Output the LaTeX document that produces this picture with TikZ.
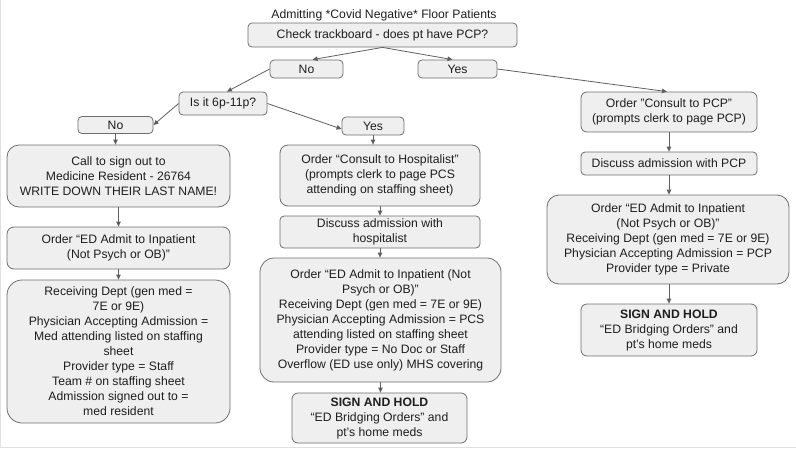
\documentclass[tikz,border=0pt]{standalone}
\usepackage{fontspec}
\setmainfont{Liberation Sans}
\usetikzlibrary{arrows.meta}
\definecolor{boxfill}{HTML}{EFEFEF}
\definecolor{boxline}{HTML}{6E6E6E}
\definecolor{conn}{HTML}{5F5F5F}
\definecolor{txt}{HTML}{1E1E1E}
\begin{document}
\begin{tikzpicture}[x=1pt,y=-1pt,
  every node/.style={font=\fontsize{12.2}{15}\selectfont, text=txt},
  fbox/.style={draw=boxline, fill=boxfill, line width=0.8pt, rounded corners=4pt, align=center, inner sep=0pt},
  bigbox/.style={fbox, rounded corners=12pt},
  conn/.style={draw=conn, line width=0.8pt, -{Triangle[length=5pt,width=4.5pt]}}]
\useasboundingbox (0,0) rectangle (796,448);
\draw[black!12, line width=1pt] (0.5,0) -- (0.5,447.5) -- (796,447.5);

\node (title) at (384,15) {Admitting *Covid Negative* Floor Patients};
\node[fbox, minimum width=269, minimum height=24] (check) at (382.5,35) {Check trackboard - does pt have PCP?};
\node[fbox, minimum width=73, minimum height=18] (no1) at (306.5,69) {No};
\node[fbox, minimum width=79, minimum height=18] (yes1) at (457.5,69) {Yes};
\node[fbox, minimum width=88, minimum height=23] (isit) at (223,103.5) {Is it 6p-11p?};
\node[fbox, minimum width=75, minimum height=17] (no2) at (115.5,125) {No};
\node[fbox, minimum width=62, minimum height=18] (yes2) at (373,126) {Yes};

% left column
\node[bigbox, minimum width=223, minimum height=62] (call) at (118.5,176) {Call to sign out to\\Medicine Resident - 26764\\WRITE DOWN THEIR LAST NAME!};
\node[fbox, rounded corners=7pt, minimum width=223, minimum height=42] (order1) at (118.5,248) {Order “ED Admit to Inpatient\\(Not Psych or OB)”};
\node[bigbox, rounded corners=15pt, minimum width=223, minimum height=143] (recv) at (118.5,351.5) {Receiving Dept (gen med =\\7E or 9E)\\Physician Accepting Admission =\\Med attending listed on staffing\\sheet\\Provider type = Staff\\Team \# on staffing sheet\\Admission signed out to =\\med resident};

% middle column
\node[bigbox, rounded corners=8pt, minimum width=200, minimum height=61] (hosp) at (380,175.5) {Order “Consult to Hospitalist”\\(prompts clerk to page PCS\\attending on staffing sheet)};
\node[fbox, minimum width=200, minimum height=32] (disc) at (380,232) {Discuss admission with\\hospitalist};
\node[bigbox, rounded corners=14pt, minimum width=241, minimum height=124] (mid) at (380.5,320) {Order “ED Admit to Inpatient (Not\\Psych or OB)”\\Receiving Dept (gen med = 7E or 9E)\\Physician Accepting Admission = PCS\\attending listed on staffing sheet\\Provider type = No Doc or Staff\\Overflow (ED use only) MHS covering};
\node[fbox, rounded corners=6pt, minimum width=175, minimum height=50] (sign1) at (379.5,418) {\textbf{SIGN AND HOLD}\\“ED Bridging Orders” and\\pt’s home meds};

% right column
\node[fbox, rounded corners=6pt, minimum width=176, minimum height=40] (cpcp) at (669,112) {Order "Consult to PCP"\\(prompts clerk to page PCP)};
\node[fbox, minimum width=176, minimum height=23] (dpcp) at (669,163.5) {Discuss admission with PCP};
\node[bigbox, rounded corners=12pt, minimum width=242, minimum height=89] (right) at (668,239.5) {Order “ED Admit to Inpatient\\(Not Psych or OB)”\\Receiving Dept (gen med = 7E or 9E)\\Physician Accepting Admission = PCP\\Provider type = Private};
\node[fbox, rounded corners=6pt, minimum width=176, minimum height=52] (sign2) at (669,330) {\textbf{SIGN AND HOLD}\\“ED Bridging Orders” and\\pt’s home meds};

% connectors
\draw[conn] (check.south) -- ([xshift=6pt]no1.north);
\draw[conn] (check.south) -- ([xshift=-5pt]yes1.north);
\draw[conn] (no1.west) -- ([xshift=4pt]isit.north);
\draw[conn] (yes1.east) -- ([xshift=-2pt]cpcp.north);
\draw[conn] (isit.west) -- (no2.east);
\draw[conn] (isit.east) -- ([yshift=-3pt]yes2.west);
\draw[conn] (no2.south) -- (call.north -| no2.south);
\draw[conn] (call.south) -- (order1.north);
\draw[conn] (order1.south) -- (recv.north);
\draw[conn] (yes2.south) -- (hosp.north -| yes2.south);
\draw[conn] (hosp.south) -- (disc.north);
\draw[conn] (disc.south) -- (mid.north -| disc.south);
\draw[conn] (mid.south) -- (sign1.north -| mid.south);
\draw[conn] (cpcp.south) -- (dpcp.north);
\draw[conn] (dpcp.south) -- (right.north -| dpcp.south);
\draw[conn] (right.south -| sign2.north) -- (sign2.north);
\end{tikzpicture}
\end{document}
